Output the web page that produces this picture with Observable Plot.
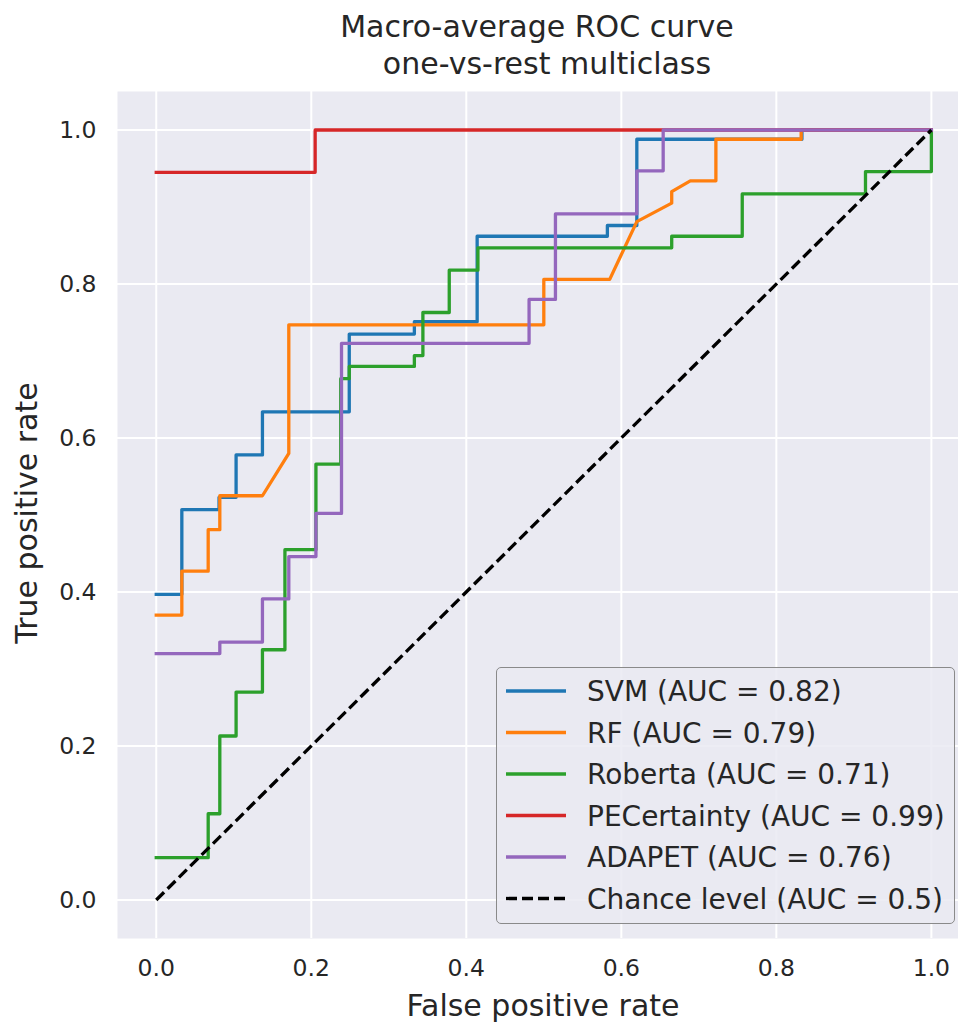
<!DOCTYPE html>
<html>
<head>
<meta charset="utf-8">
<script src="https://cdn.jsdelivr.net/npm/d3@7"></script>
<script src="https://cdn.jsdelivr.net/npm/@observablehq/plot@0.6"></script>
<style>
  html, body { margin: 0; padding: 0; background: white; overflow: hidden; }
  #wrap { position: relative; width: 958px; height: 1024px; font-family: "DejaVu Sans", sans-serif; color: #262626; }
  #wrap > svg.overlay { position: absolute; left: 0; top: 0; pointer-events: none; }
  #legend { position: absolute; left: 496px; top: 667px; width: 457px; height: 255px;
            border: 1.5px solid #8a8a8a; border-radius: 5px; background: rgba(234,234,242,0.85); }
</style>
</head>
<body>
<div id="wrap"></div>
<script>
// ---- data ----
const svmFpr = [0, 0.033, 0.033, 0.081, 0.081, 0.103, 0.103, 0.137, 0.137, 0.249, 0.249, 0.333, 0.333, 0.414, 0.414, 0.582, 0.582, 0.620, 0.620, 0.833, 0.833, 1];
const svmTpr = [0.397, 0.397, 0.507, 0.507, 0.523, 0.523, 0.578, 0.578, 0.634, 0.634, 0.735, 0.735, 0.751, 0.751, 0.862, 0.862, 0.876, 0.876, 0.988, 0.988, 1, 1];

const rfFpr = [0, 0.033, 0.033, 0.067, 0.067, 0.082, 0.082, 0.137, 0.171, 0.171, 0.500, 0.500, 0.585, 0.620, 0.665, 0.665, 0.689, 0.722, 0.722, 0.832, 0.832, 1];
const rfTpr = [0.370, 0.370, 0.427, 0.427, 0.481, 0.481, 0.525, 0.525, 0.580, 0.747, 0.747, 0.806, 0.806, 0.881, 0.905, 0.920, 0.934, 0.934, 0.988, 0.988, 1, 1];

const robertaFpr = [0, 0.067, 0.067, 0.082, 0.082, 0.103, 0.103, 0.137, 0.137, 0.166, 0.166, 0.206, 0.206, 0.238, 0.238, 0.249, 0.249, 0.333, 0.333, 0.344, 0.344, 0.378, 0.378, 0.415, 0.415, 0.665, 0.665, 0.756, 0.756, 0.915, 0.915, 1, 1];
const robertaTpr = [0.055, 0.055, 0.112, 0.112, 0.213, 0.213, 0.270, 0.270, 0.325, 0.325, 0.455, 0.455, 0.566, 0.566, 0.677, 0.677, 0.693, 0.693, 0.707, 0.707, 0.763, 0.763, 0.818, 0.818, 0.847, 0.847, 0.862, 0.862, 0.917, 0.917, 0.946, 0.946, 1];

const pecFpr = [0, 0.205, 0.205, 1];
const pecTpr = [0.945, 0.945, 1, 1];

const adapetFpr = [0, 0.082, 0.082, 0.137, 0.137, 0.171, 0.171, 0.206, 0.206, 0.239, 0.239, 0.481, 0.481, 0.515, 0.515, 0.620, 0.620, 0.654, 0.654, 1];
const adapetTpr = [0.320, 0.320, 0.335, 0.335, 0.391, 0.391, 0.446, 0.446, 0.502, 0.502, 0.723, 0.723, 0.780, 0.780, 0.891, 0.891, 0.947, 0.947, 1, 1];

const chanceFpr = [0, 1];
const chanceTpr = [0, 1];

const seriesNames = ["SVM (AUC = 0.82)", "RF (AUC = 0.79)", "Roberta (AUC = 0.71)", "PECertainty (AUC = 0.99)", "ADAPET (AUC = 0.76)", "Chance level (AUC = 0.5)"];
const seriesColors = ["#1f77b4", "#ff7f0e", "#2ca02c", "#d62728", "#9467bd", "#000000"];
const tickValues = [0, 0.2, 0.4, 0.6, 0.8, 1.0];

const titleLines = ["Macro-average ROC curve", "one-vs-rest multiclass"];
const xLabel = "False positive rate";
const yLabel = "True positive rate";

// ---- build ----
const toPts = (xs, ys) => xs.map((x, i) => ({fpr: x, tpr: ys[i]}));
const series = [
  toPts(svmFpr, svmTpr),
  toPts(rfFpr, rfTpr),
  toPts(robertaFpr, robertaTpr),
  toPts(pecFpr, pecTpr),
  toPts(adapetFpr, adapetTpr),
  toPts(chanceFpr, chanceTpr)
];

const LW = 3.3;
const lineMarks = series.map((pts, i) => Plot.line(pts, {
  x: "fpr", y: "tpr", stroke: seriesColors[i], strokeWidth: LW,
  strokeLinejoin: "round", strokeLinecap: i === 5 ? "butt" : "square",
  strokeDasharray: i === 5 ? "11,5" : null
}));

const chart = Plot.plot({
  width: 958, height: 1024,
  marginTop: 91, marginBottom: 86, marginLeft: 117, marginRight: 0,
  x: {domain: [-0.05, 1.035]},
  y: {domain: [-0.05, 1.05]},
  style: {fontFamily: "DejaVu Sans, sans-serif", color: "#262626", background: "white", overflow: "hidden"},
  marks: [
    Plot.frame({fill: "#eaeaf2", stroke: "none"}),
    Plot.gridX(tickValues, {stroke: "white", strokeOpacity: 1, strokeWidth: 2}),
    Plot.gridY(tickValues, {stroke: "white", strokeOpacity: 1, strokeWidth: 2}),
    Plot.axisX(tickValues, {tickSize: 0, tickPadding: 21, fontSize: 23.5, label: null, tickFormat: d3.format(".1f")}),
    Plot.axisY(tickValues, {tickSize: 0, tickPadding: 21, fontSize: 23.5, label: null, tickFormat: d3.format(".1f")}),
    ...lineMarks
  ]
});

const wrap = document.getElementById("wrap");
wrap.appendChild(chart);

// overlay texts: title and axis labels
const ns = "http://www.w3.org/2000/svg";
const ov = document.createElementNS(ns, "svg");
ov.setAttribute("class", "overlay");
ov.setAttribute("width", 958);
ov.setAttribute("height", 1024);
function addText(str, attrs) {
  const t = document.createElementNS(ns, "text");
  for (const k in attrs) t.setAttribute(k, attrs[k]);
  t.textContent = str;
  ov.appendChild(t);
  return t;
}
const common = {"font-family": "DejaVu Sans, sans-serif", fill: "#262626", "text-anchor": "middle"};
addText(titleLines[0], {...common, x: 537, y: 37, "font-size": 30});
addText(titleLines[1], {...common, x: 547, y: 74, "font-size": 30});
addText(xLabel, {...common, x: 543, y: 1016, "font-size": 30});
addText(yLabel, {...common, transform: "translate(37,513) rotate(-90)", "font-size": 30});
wrap.appendChild(ov);

// legend
const legend = document.createElement("div");
legend.id = "legend";
wrap.appendChild(legend);
const lsvg = document.createElementNS(ns, "svg");
lsvg.setAttribute("width", 457);
lsvg.setAttribute("height", 255);
lsvg.style.position = "absolute";
lsvg.style.left = "0px";
lsvg.style.top = "0px";
legend.appendChild(lsvg);
seriesNames.forEach((name, i) => {
  const cy = 23 + 41.5 * i;
  const ln = document.createElementNS(ns, "line");
  ln.setAttribute("x1", 9); ln.setAttribute("x2", 69);
  ln.setAttribute("y1", cy); ln.setAttribute("y2", cy);
  ln.setAttribute("stroke", seriesColors[i]);
  ln.setAttribute("stroke-width", LW);
  if (i === 5) ln.setAttribute("stroke-dasharray", "11,5");
  lsvg.appendChild(ln);
  const t = document.createElementNS(ns, "text");
  t.setAttribute("x", 90);
  t.setAttribute("y", cy + 10);
  t.setAttribute("font-family", "DejaVu Sans, sans-serif");
  t.setAttribute("font-size", 28);
  t.setAttribute("fill", "#262626");
  t.textContent = name;
  lsvg.appendChild(t);
});
</script>
</body>
</html>
